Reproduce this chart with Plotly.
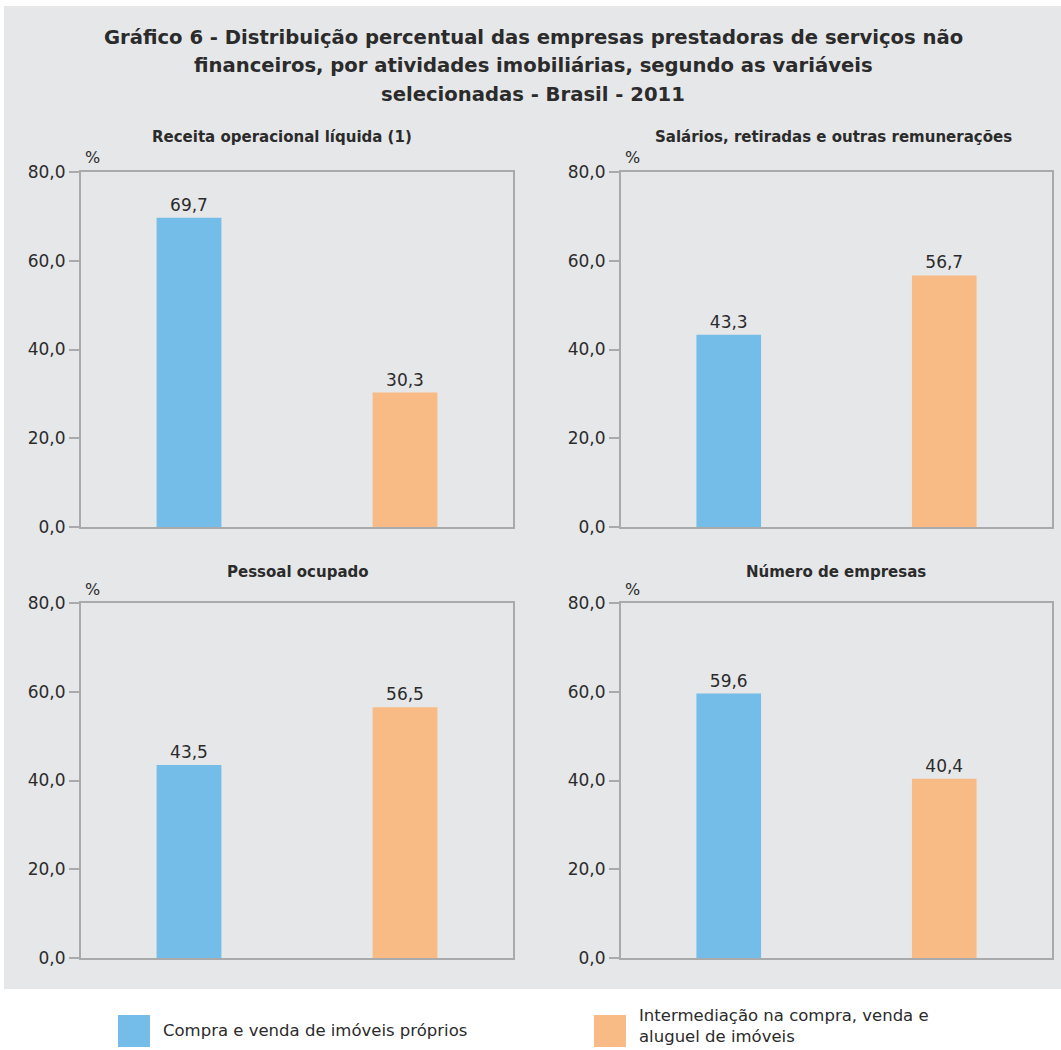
import plotly.graph_objects as go

# Data (percent distribution, Brasil 2011)
categories = ["Compra e venda de imóveis próprios",
              "Intermediação na compra, venda e aluguel de imóveis"]
legend_labels = ["Compra e venda de imóveis próprios",
                 "Intermediação na compra, venda e<br>aluguel de imóveis"]
panel_titles = ["Receita operacional líquida (1)",
                "Salários, retiradas e outras remunerações",
                "Pessoal ocupado",
                "Número de empresas"]
title_lines = ["Gráfico 6 - Distribuição percentual das empresas prestadoras de serviços não",
               "financeiros, por atividades imobiliárias, segundo as variáveis",
               "selecionadas - Brasil - 2011"]
receita = [69.7, 30.3]
salarios = [43.3, 56.7]
pessoal = [43.5, 56.5]
empresas = [59.6, 40.4]
panel_values = [receita, salarios, pessoal, empresas]
tick_vals = [0, 20, 40, 60, 80]
tick_text = ["0,0", "20,0", "40,0", "60,0", "80,0"]

W, H = 1061, 1050
BLUE = "#74bde8"
ORANGE = "#f9bb85"
BG = "#e6e7e9"
EDGE = "#a9aaac"
TXT = "#2b2b2b"
FONT = "DejaVu Sans"


def px_x(x):
    return x / W


def px_y(y):
    return 1 - y / H


# panel plot areas in pixels: (left, right, top, bottom)
areas = [(81, 513, 172, 527), (621, 1052, 172, 527),
         (81, 513, 603, 958), (621, 1052, 603, 958)]
title_pos = [(282, 137), (833, 137), (298, 572), (836, 572)]

fig = go.Figure()
layout = dict(
    width=W, height=H,
    margin=dict(l=0, r=0, t=0, b=0, autoexpand=False),
    paper_bgcolor="white",
    plot_bgcolor="white",
    showlegend=False,
    font=dict(family=FONT, color=TXT),
)

annotations = []
shapes = [dict(type="rect", xref="paper", yref="paper",
               x0=px_x(4), x1=1.0, y0=px_y(989), y1=px_y(6),
               fillcolor=BG, line=dict(width=0), layer="below")]

for i, (vals, area) in enumerate(zip(panel_values, areas)):
    n = i + 1
    xa = "x" if n == 1 else f"x{n}"
    ya = "y" if n == 1 else f"y{n}"
    l, r, t, b = area
    fig.add_trace(go.Bar(
        x=[0, 1], y=vals,
        marker=dict(color=[BLUE, ORANGE], line=dict(width=0)),
        width=0.3,
        text=[f"{v:.1f}".replace(".", ",") for v in vals],
        textposition="outside",
        textfont=dict(family=FONT, size=17, color=TXT),
        cliponaxis=False,
        xaxis=xa, yaxis=ya,
        hovertext=categories,
    ))
    layout[f"xaxis{'' if n == 1 else n}"] = dict(
        domain=[px_x(l), px_x(r)], anchor=ya, automargin=False,
        range=[-0.5, 1.5], showticklabels=False, ticks="",
        showgrid=False, zeroline=False,
        showline=True, linecolor=EDGE, linewidth=2, mirror=True,
    )
    layout[f"yaxis{'' if n == 1 else n}"] = dict(
        domain=[px_y(b), px_y(t)], anchor=xa, automargin=False,
        range=[0, 80], tickvals=tick_vals, ticktext=tick_text,
        ticks="outside", ticklen=10, tickwidth=1.5, tickcolor=EDGE,
        tickfont=dict(family=FONT, size=17, color=TXT),
        showgrid=False, zeroline=False,
        showline=True, linecolor=EDGE, linewidth=2, mirror=True,
    )
    tx, ty = title_pos[i]
    annotations.append(dict(
        text=f"<b>{panel_titles[i]}</b>", xref="paper", yref="paper",
        x=px_x(tx), y=px_y(ty), xanchor="center", yanchor="middle",
        showarrow=False, font=dict(family=FONT, size=15, color=TXT)))
    annotations.append(dict(
        text="%", xref="paper", yref="paper",
        x=px_x(l + 2), y=px_y(t - 14), xanchor="left", yanchor="middle",
        showarrow=False, font=dict(family=FONT, size=16, color=TXT)))

# main title, one annotation per line
for line, ty in zip(title_lines, [37, 65, 94]):
    annotations.append(dict(
        text=f"<b>{line}</b>",
        xref="paper", yref="paper", x=px_x(533), y=px_y(ty),
        xanchor="center", yanchor="middle", align="center",
        showarrow=False, font=dict(family=FONT, size=19.6, color=TXT)))

# legend drawn below the gray panel
legend_items = [(118, BLUE, legend_labels[0], 1030),
                (594, ORANGE, legend_labels[1], 1026)]
for x0, color, label, yc in legend_items:
    shapes.append(dict(type="rect", xref="paper", yref="paper",
                       x0=px_x(x0), x1=px_x(x0 + 32),
                       y0=px_y(1047), y1=px_y(1015),
                       fillcolor=color, line=dict(width=0)))
    annotations.append(dict(
        text=label, xref="paper", yref="paper",
        x=px_x(x0 + 43), y=px_y(yc), xanchor="left", yanchor="middle",
        align="left", showarrow=False,
        font=dict(family=FONT, size=16.5, color=TXT)))

layout["annotations"] = annotations
layout["shapes"] = shapes
fig.update_layout(**layout)
fig.write_html("out.html")
